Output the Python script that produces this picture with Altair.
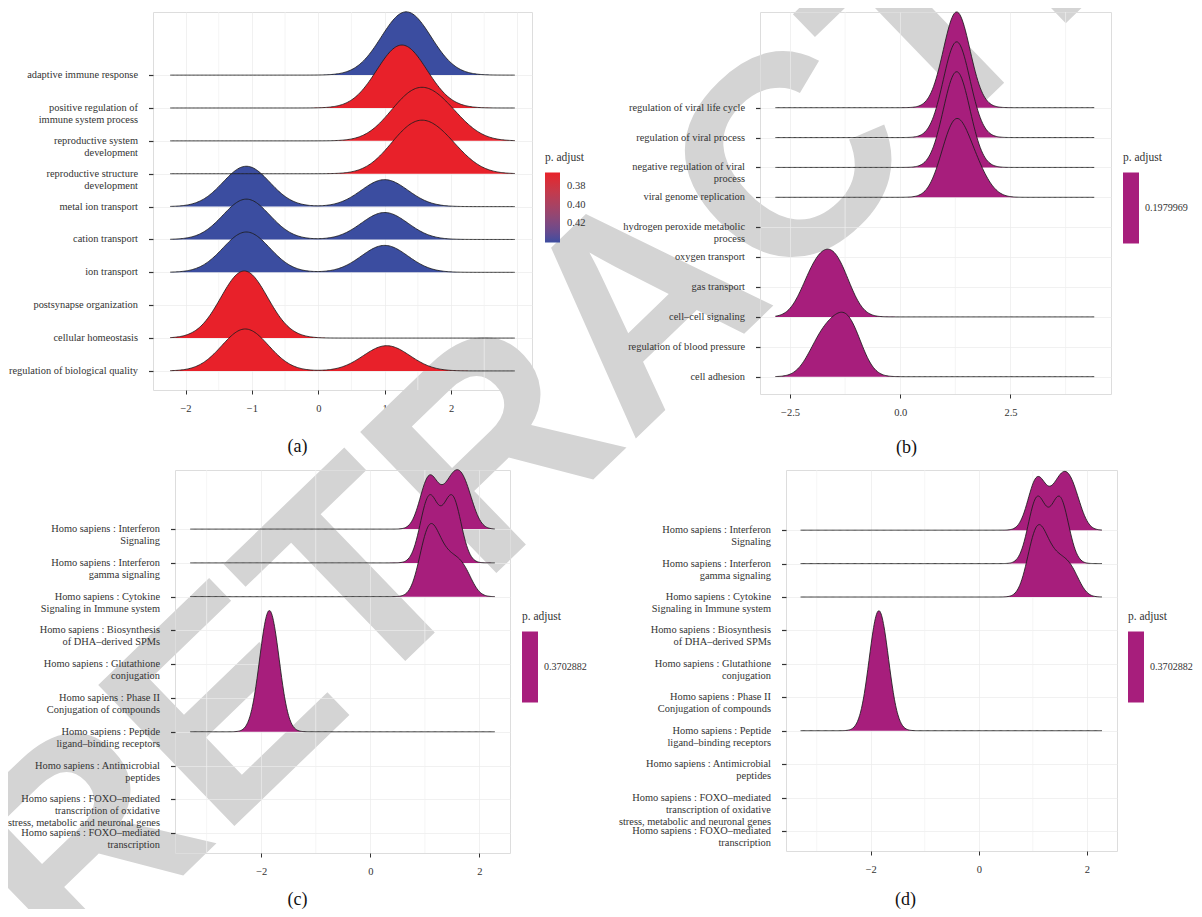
import altair as alt
import pandas as pd

FONT = "Liberation Serif"

# ---------------- Panel (a) ----------------
A_TERMS = [
    "adaptive immune response",
    "positive regulation of\nimmune system process",
    "reproductive system\ndevelopment",
    "reproductive structure\ndevelopment",
    "metal ion transport",
    "cation transport",
    "ion transport",
    "postsynapse organization",
    "cellular homeostasis",
    "regulation of biological quality",
]
A_PADJ = [0.441, 0.3653, 0.3653, 0.3653, 0.441, 0.441, 0.441, 0.3653, 0.3653, 0.3653]
A_GENES = [
    [1.20, 1.45],
    [1.13, 1.39],
    [1.30, 1.55, 1.90],
    [1.30, 1.55, 1.90],
    [-1.12, -1.08, -1.05, 0.98, 1.02],
    [-1.12, -1.08, -1.05, 0.98, 1.02],
    [-1.12, -1.08, -1.05, 0.98, 1.02],
    [-1.10],
    [-1.15, -1.08],
    [-1.15, -1.12, -1.10, -1.08, -1.05, 1.00, 1.03, 1.06],
]
A_TICKS = [-2, -1, 0, 1, 2, 3]
A_MINOR = [-1.5, -0.5, 0.5, 1.5, 2.5]
A_LEGEND = [0.38, 0.40, 0.42]

# ---------------- Panel (b) ----------------
B_TERMS = [
    "regulation of viral life cycle",
    "regulation of viral process",
    "negative regulation of viral\nprocess",
    "viral genome replication",
    "hydrogen peroxide metabolic\nprocess",
    "oxygen transport",
    "gas transport",
    "cell–cell signaling",
    "regulation of blood pressure",
    "cell adhesion",
]
B_PADJ = [0.1979969] * 10
B_GENES = [
    [1.25, 1.31],
    [1.25, 1.31],
    [1.25, 1.31],
    [1.15, 1.25, 1.30, 1.70],
    [3.50],
    [-1.60],
    [-1.60],
    [-2.00, -1.65, -1.35],
    [-1.20],
    [-1.85, -1.55, -1.20, -1.12],
]
B_TICKS = [-2.5, 0.0, 2.5]
B_MINOR = [-1.25, 1.25, 3.75]

# ---------------- Panels (c) and (d) ----------------
C_TERMS = [
    "Homo sapiens : Interferon\nSignaling",
    "Homo sapiens : Interferon\ngamma signaling",
    "Homo sapiens : Cytokine\nSignaling in Immune system",
    "Homo sapiens : Biosynthesis\nof DHA–derived SPMs",
    "Homo sapiens : Glutathione\nconjugation",
    "Homo sapiens : Phase II\nConjugation of compounds",
    "Homo sapiens : Peptide\nligand–binding receptors",
    "Homo sapiens : Antimicrobial\npeptides",
    "Homo sapiens : FOXO–mediated\ntranscription of oxidative\nstress, metabolic and neuronal genes",
    "Homo sapiens : FOXO–mediated\ntranscription",
]
C_PADJ = [0.3702882] * 10
C_GENES = [
    [1.04, 1.12, 1.44, 1.60, 1.76],
    [1.05, 1.11, 1.47, 1.53],
    [1.00, 1.07, 1.14, 1.30, 1.50, 1.72],
    [-2.70],
    [-1.90],
    [-1.85],
    [-1.92, -1.78],
    [0.80],
    [1.20],
    [1.30],
]
C_TICKS = [-2, 0, 2]
C_MINOR = [-3, -1, 1]

CAPTIONS = ["(a)", "(b)", "(c)", "(d)"]
WATERMARK = ["RETRACTED"]

RED = "#E8212A"
BLUE = "#3B4DA0"
PURPLE = "#A71E7C"
INK = "#333333"


def panel(terms, genes, padj, bw, extent, k, xdom, ydom, ticks, minors, xfmt,
          caption, cap_x, cap_y, width, height, color, label_dx,
          negate=False, under=()):
    n = len(terms)
    recs = []
    for i, (t, g, p) in enumerate(zip(terms, genes, padj)):
        for v in g:
            recs.append({"term": t, "row": n - 1 - i, "padj": p, "gene": v})
    df = pd.DataFrame(recs)
    lab = pd.DataFrame({"label": terms, "row": [n - 1 - i for i in range(n)]})
    grid = pd.DataFrame({"m": minors})

    xs = alt.Scale(domain=xdom, nice=False, zero=False)
    ys = alt.Scale(domain=ydom, nice=False, zero=False)
    xax = alt.Axis(values=ticks, format=xfmt, labelFont=FONT, labelFontSize=10.5,
                   labelColor=INK, tickColor=INK, tickSize=4, labelPadding=9,
                   domain=False, grid=True, gridColor="#ebebeb", gridWidth=0.7,
                   title=caption, titleFont=FONT, titleFontSize=18,
                   titleFontWeight="normal", titleColor="#111111",
                   titleX=cap_x, titleY=cap_y, titleAlign="center",
                   titleBaseline="middle")
    yax = alt.Axis(values=list(range(n)), labels=False, ticks=True, tickSize=4.5,
                   tickColor=INK, tickWidth=1.2, domain=False, grid=True,
                   gridColor="#ebebeb", gridWidth=0.7, title="")

    base = (
        alt.Chart(df)
        .transform_joinaggregate(cnt="count()", groupby=["term"])
        .transform_filter("datum.cnt >= 2")
        .transform_density("gene", as_=["x", "density"],
                           groupby=["term", "row", "padj"],
                           bandwidth=bw, extent=extent, steps=260)
        .transform_calculate(top=f"datum.row + datum.density * {k}",
                             nadj="-datum.padj")
    )
    cfield = "nadj:Q" if negate else "padj:Q"
    area = base.mark_area(opacity=1, interpolate="monotone").encode(
        x=alt.X("x:Q", scale=xs, axis=xax),
        y=alt.Y("top:Q", scale=ys, axis=yax),
        y2=alt.Y2("row:Q"),
        color=alt.Color(cfield, scale=color[0], legend=color[1]),
        detail="term:N",
    )
    line = base.mark_line(color="#1c1c1c", strokeWidth=0.85,
                          interpolate="monotone").encode(
        x=alt.X("x:Q", scale=xs, axis=xax),
        y=alt.Y("top:Q", scale=ys, axis=yax),
        detail="term:N",
    )
    mgrid = alt.Chart(grid).mark_rule(color="#f1f1f1", strokeWidth=0.7).encode(
        x=alt.X("m:Q", scale=xs, axis=xax)
    )
    text = alt.Chart(lab).mark_text(
        align="right", baseline="middle", lineBreak="\n", font=FONT,
        fontSize=10.4, color=INK, lineHeight=12,
    ).encode(
        x=alt.value(label_dx),
        y=alt.Y("row:Q", scale=ys, axis=yax),
        text="label:N",
    )
    return alt.layer(*under, mgrid, area, line, text).properties(
        width=width, height=height
    )


def legend_single(v, lx, ly):
    sc = alt.Scale(domain=[v - 0.01, v + 0.01], range=[PURPLE, PURPLE])
    lg = alt.Legend(title="p. adjust", orient="none", legendX=lx, legendY=ly,
                    direction="vertical", gradientLength=71, gradientThickness=16,
                    values=[v], format=".7f", titleFont=FONT, titleFontSize=11.5,
                    titleFontWeight="normal", titleColor=INK, labelFont=FONT,
                    labelFontSize=10.1, labelColor=INK, titlePadding=9,
                    labelOffset=6, gradientStrokeWidth=0)
    return (sc, lg)


a_scale = alt.Scale(domain=[-0.441, -0.3653], range=[BLUE, RED], interpolate="lab")
a_legend = alt.Legend(title="p. adjust", orient="none", legendX=392, legendY=140,
                      direction="vertical", gradientLength=70, gradientThickness=15,
                      values=[-x for x in A_LEGEND],
                      labelExpr="format(-datum.value, '.2f')",
                      titleFont=FONT, titleFontSize=11.5, titleFontWeight="normal",
                      titleColor=INK, labelFont=FONT, labelFontSize=10.5,
                      labelColor=INK, titlePadding=9, labelOffset=7,
                      gradientStrokeWidth=0)

wm = alt.Chart(pd.DataFrame({"w": WATERMARK})).mark_text(
    angle=316, fontSize=285, font="Liberation Sans", fontWeight="bold",
    color="#d4d4d4", align="center", baseline="middle",
).encode(x=alt.value(492), y=alt.value(298), text="w:N")

pa = panel(A_TERMS, A_GENES, A_PADJ, 0.35, [-2.23, 2.96], 1.8, [-2.49, 3.22],
           [-0.58, 10.92], A_TICKS, A_MINOR, "d", CAPTIONS[0], 144, 56, 379, 378,
           (a_scale, a_legend), -15, negate=True, under=(wm,))
pb = panel(B_TERMS, B_GENES, B_PADJ, 0.30, [-2.83, 4.40], 2.42, [-3.18, 4.78],
           [-0.58, 12.2], B_TICKS, B_MINOR, ".1f", CAPTIONS[1], 146, 53, 351, 382,
           legend_single(B_PADJ[0], 363, 140), -15)
pc = panel(C_TERMS, C_GENES, C_PADJ, 0.16, [-3.30, 2.28], 1.584, [-3.58, 2.56],
           [-0.59, 10.75], C_TICKS, C_MINOR, "d", CAPTIONS[2], 122, 46, 335, 383,
           legend_single(C_PADJ[0], 347, 141), -15)
pd_ = panel(C_TERMS, C_GENES, C_PADJ, 0.16, [-3.30, 2.28], 1.584, [-3.57, 2.56],
            [-0.60, 10.80], C_TICKS, C_MINOR, "d", CAPTIONS[3], 119, 48, 331, 381,
            legend_single(C_PADJ[0], 342, 141), -15)


def spacer(w):
    return alt.Chart(pd.DataFrame({"s": [0]})).mark_point(opacity=0).encode(
        x=alt.value(0), y=alt.value(0)
    ).properties(width=w, height=10, view=alt.ViewBackground(strokeOpacity=0))


row_c = alt.HConcatChart(hconcat=[spacer(22), pc], spacing=0, bounds="flush").resolve_scale(color="independent")
row_d = alt.HConcatChart(hconcat=[spacer(26), pd_], spacing=0, bounds="flush").resolve_scale(color="independent")
col1 = alt.VConcatChart(vconcat=[pa, row_c], spacing=80, bounds="flush").resolve_scale(color="independent")
col2 = alt.VConcatChart(vconcat=[pb, row_d], spacing=76, bounds="flush").resolve_scale(color="independent")

chart = (
    alt.HConcatChart(hconcat=[col1, col2], spacing=607, bounds="flush")
    .resolve_scale(color="independent")
    .properties(
        autosize=alt.AutoSizeParams(type="none"),
        padding={"left": 145, "top": 4, "right": 1041, "bottom": 897},
    )
    .configure_view(stroke="#2b2b2b", strokeWidth=1.3)
    .configure(background="white")
)

chart.save("out.html", embed_options={"renderer": "svg", "actions": False})
